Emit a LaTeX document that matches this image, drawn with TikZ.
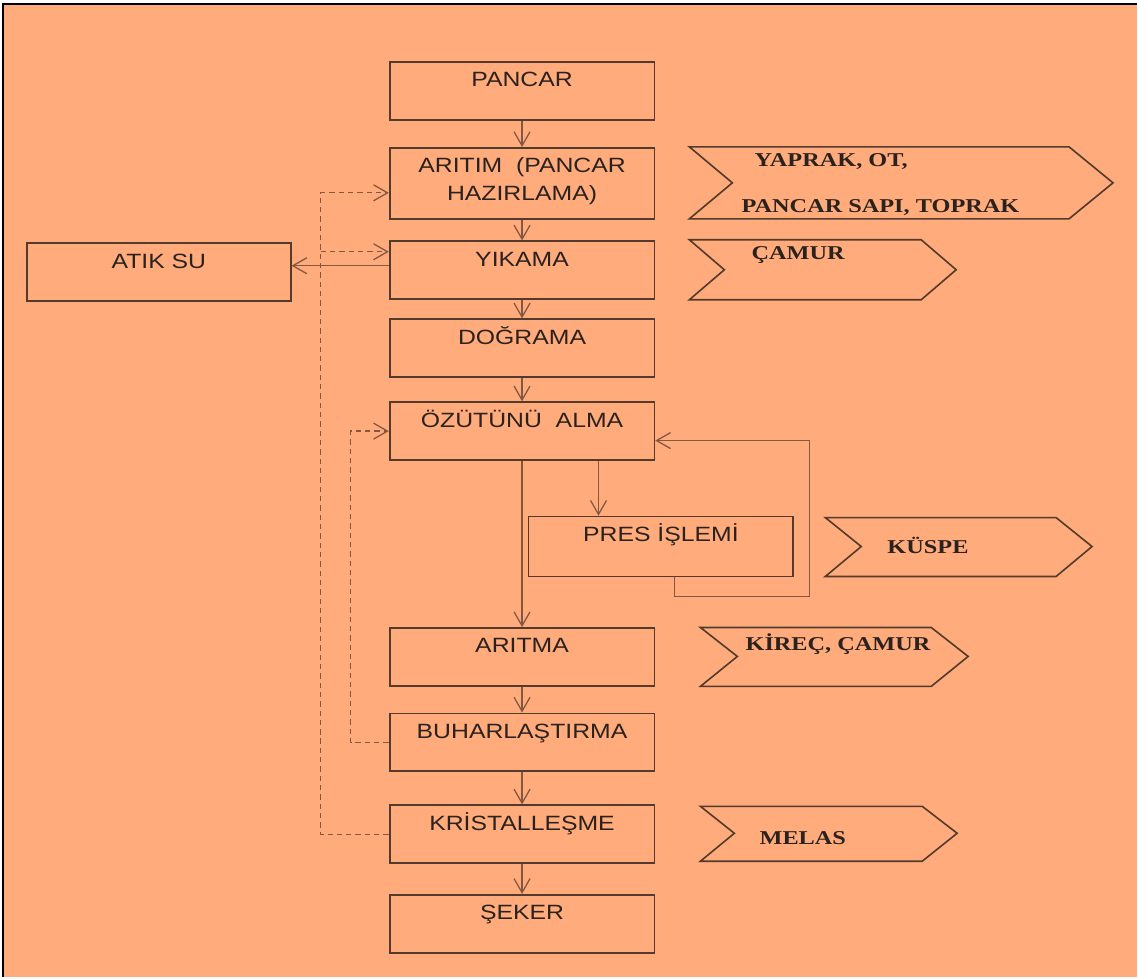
\documentclass[tikz,border=0pt]{standalone}
\usepackage{fontspec}
\setmainfont{Liberation Sans}[FakeStretch=1.2]
\newfontfamily\chevfont{Liberation Serif}[FakeStretch=1.24]
\usepackage{tikz}
\usetikzlibrary{arrows.meta}
\definecolor{bgorange}{RGB}{255,171,123}
\definecolor{boxline}{RGB}{82,58,45}
\definecolor{flowline}{RGB}{130,88,65}
\definecolor{txt}{RGB}{42,34,30}

\tikzset{
  proc/.style={draw=boxline, line width=1.3pt, minimum width=198.75pt, inner sep=0pt,
    text height=18.75pt, text depth=24.75pt, font=\fontsize{15.5}{21}\selectfont, text=txt},
  flow/.style={draw=flowline, line width=0.95pt, -{Straight Barb[length=10.5pt,width=12pt]}},
  fback/.style={flow, dash pattern=on 4pt off 3pt},
  chev/.style={draw=boxline, line width=1.2pt, line join=miter},
  waste/.style={anchor=base west, inner sep=0pt, text=txt,
    font=\fontsize{14.7}{17}\selectfont\chevfont\bfseries}
}

\begin{document}
\begin{tikzpicture}[x=0.75pt, y=-0.75pt]
  \fill[white] (0,0) rectangle (1138,978);
  \fill[bgorange] (3,4) rectangle (1138,978);
  \draw[black, line width=1.5pt] (3,978) -- (3,4) -- (1138,4);

  % main column
  \node[proc] (pancar) at (522.5,91) {PANCAR};
  \node[proc, text depth=34.5pt] (aritim) at (522.5,183.5)
    {\begin{tabular}[t]{@{}c@{}}ARITIM\ \ (PANCAR\\HAZIRLAMA)\end{tabular}};
  \node[proc] (yikama) at (522.5,270.5) {YIKAMA};
  \node[proc] (dograma) at (522.5,348.5) {DOĞRAMA};
  \node[proc] (ozut) at (522.5,431.5) {ÖZÜTÜNÜ\ \ ALMA};
  \node[proc, text depth=26.25pt] (pres) at (661.5,547) {PRES İŞLEMİ};
  \node[proc] (aritma) at (522.5,657.5) {ARITMA};
  \node[proc] (buhar) at (522.5,743) {BUHARLAŞTIRMA};
  \node[proc] (krist) at (522.5,835) {KRİSTALLEŞME};
  \node[proc] (seker) at (522.5,924.5) {ŞEKER};
  \node[proc, minimum width=198pt] (atik) at (159,272.5) {ATIK SU};

  \draw[flow] (pancar) -- (aritim);
  \draw[flow] (aritim) -- (yikama);
  \draw[flow] (yikama) -- (dograma);
  \draw[flow] (dograma) -- (ozut);
  \draw[flow] (ozut) -- (aritma);
  \draw[flow] (aritma) -- (buhar);
  \draw[flow] (buhar) -- (krist);
  \draw[flow] (krist) -- (seker);
  \draw[flow] ([xshift=57.4pt]ozut.south) -- ([xshift=57.4pt]ozut.south |- pres.north);
  \draw[flow] ([yshift=3.4pt]yikama.west) -- ([yshift=3.4pt]yikama.west -| atik.east);

  % press loop back
  \coordinate (loop) at (810,597);
  \draw[flow] ([xshift=10.1pt]pres.south) |- (loop) |- ([yshift=-7.1pt]ozut.east);

  % dashed returns
  \coordinate (fb1) at (321,0);
  \coordinate (fb2) at (351,0);
  \draw[fback] (krist.west) -| ([yshift=-7.1pt]aritim.west -| fb1) -- ([yshift=-7.1pt]aritim.west);
  \draw[fback] ([yshift=13.9pt]yikama.west -| fb1) -- ([yshift=13.9pt]yikama.west);
  \draw[fback] (buhar.west) -| (ozut.west -| fb2) -- (ozut.west);

  % outputs
  \draw[chev] (690,147) -- (1070,147) -- (1114,183) -- (1070,219) -- (690,219) -- (733,183) -- cycle;
  \draw[chev] (690,240) -- (922,240) -- (957,270) -- (922,300) -- (690,300) -- (725,270) -- cycle;
  \draw[chev] (826,518) -- (1057,518) -- (1093,547) -- (1057,577) -- (826,577) -- (862,547) -- cycle;
  \draw[chev] (701,628) -- (932,628) -- (969,657) -- (932,687) -- (701,687) -- (738,657) -- cycle;
  \draw[chev] (701,807) -- (923,807) -- (958,834) -- (923,862) -- (701,862) -- (735,834) -- cycle;

  \node[waste] (yaprak) at (755,167) {YAPRAK, OT,};
  \node[waste] (sapi) at (742,213) {PANCAR SAPI, TOPRAK};
  \node[waste] (camur) at (752,260) {ÇAMUR};
  \node[waste] (kuspe) at (888,554) {KÜSPE};
  \node[waste] (kirec) at (746,651) {KİREÇ, ÇAMUR};
  \node[waste] (melas) at (760,845) {MELAS};
\end{tikzpicture}
\end{document}
